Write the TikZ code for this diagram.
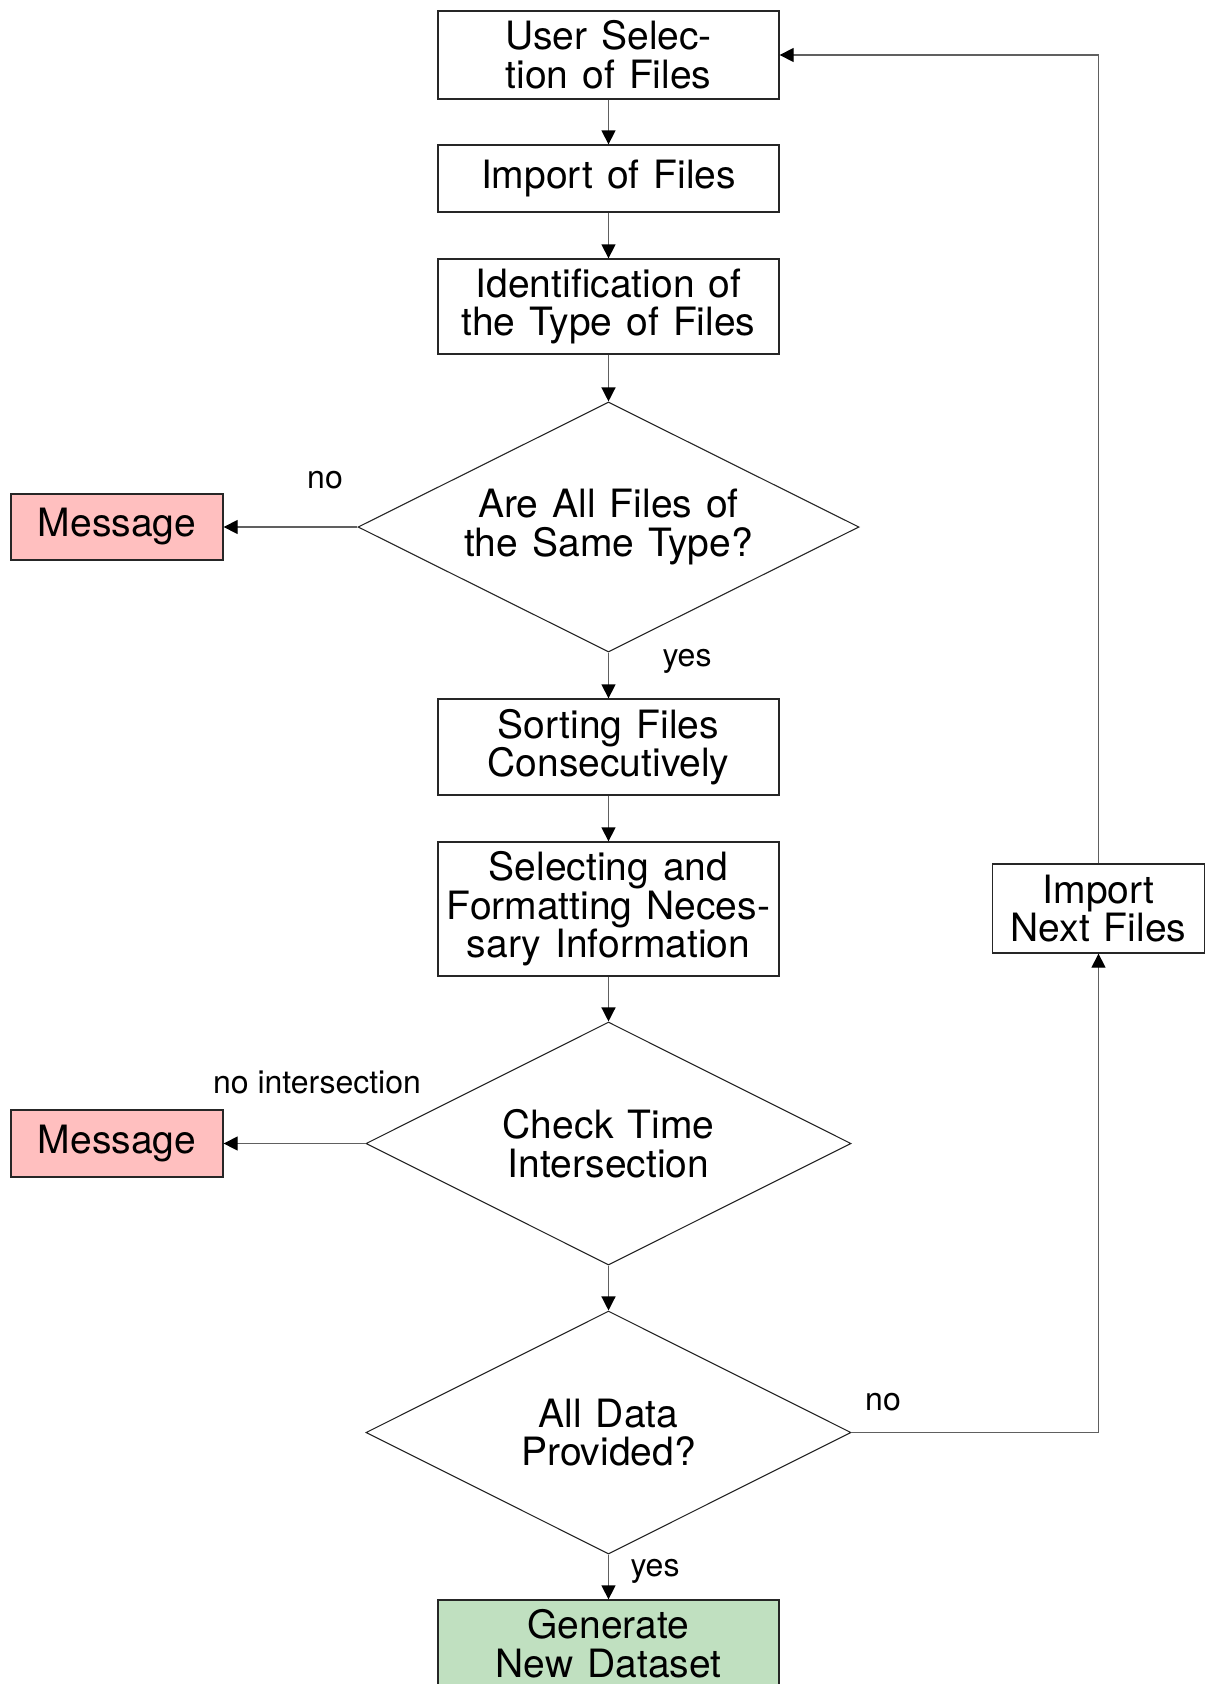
\documentclass[tikz,border=0pt]{standalone}
\usepackage{fontspec}
\setmainfont{TeX Gyre Heros}
\usetikzlibrary{shapes.geometric,arrows.meta}

\newcommand{\boxfont}{\fontsize{39}{38.6}\selectfont\spaceskip=0.36em\relax}
\newcommand{\labfont}{\fontsize{32}{36}\selectfont}

\definecolor{warnfill}{HTML}{FFBFBF}
\definecolor{okfill}{HTML}{C0E0C0}
\definecolor{linegray}{HTML}{606060}

\tikzset{
  stepbox/.style={draw=black!85, line width=1.3pt, minimum width=341pt,
    inner sep=0pt, align=center, font=\boxfont},
  sidebox/.style={stepbox, minimum width=212pt},
  decision/.style={draw=black!85, line width=1.1pt, shape=diamond, aspect=2,
    inner sep=0pt, align=center, font=\boxfont},
  conn/.style={draw=linegray, line width=1.3pt,
    -{Triangle[length=14pt,width=14pt,fill=black,color=black]}},
  edgelabel/.style={font=\labfont, inner sep=0pt}
}

\begin{document}
\begin{tikzpicture}[x=1pt,y=-1pt]
\useasboundingbox (0,0) rectangle (1206,1684);

% main column
\node[stepbox, minimum height=88pt] (sel) at (608.5,55) {User Selec-\\tion of Files};
\node[stepbox, minimum height=67pt] (imp) at (608.5,178.5) {Import of Files};
\node[stepbox, minimum height=95pt] (ident) at (608.5,306.5) {Identification of\\the Type of Files};
\node[decision, minimum width=501pt, minimum height=250pt] (same) at (608.5,527) {Are All Files of\\the Same Type?};
\node[stepbox, minimum height=96pt] (sort) at (608.5,747) {Sorting Files\\Consecutively};
\node[stepbox, minimum height=134pt] (format) at (608.5,909) {Selecting and\\Formatting Neces-\\sary Information};
\node[decision, minimum width=485pt, minimum height=243pt] (time) at (608.5,1143.5) {Check Time\\Intersection};
\node[decision, minimum width=485pt, minimum height=243pt] (all) at (608.5,1432.5) {All Data\\Provided?};
\node[stepbox, minimum height=88pt, fill=okfill] (gen) at (608.5,1644) {Generate\\New Dataset};

% side boxes
\node[sidebox, minimum height=66pt, fill=warnfill] (msgA) at (117,527) {Message};
\node[sidebox, minimum height=67pt, fill=warnfill] (msgB) at (117,1143.5) {Message};
\node[sidebox, minimum height=89pt] (next) at (1098.5,908.5) {Import\\Next Files};

% connectors
\draw[conn] (sel) -- (imp);
\draw[conn] (imp) -- (ident);
\draw[conn] (ident) -- (same);
\draw[conn] (same.west) -- (msgA.east);
\draw[conn] (same.south) -- (sort);
\draw[conn] (sort) -- (format);
\draw[conn] (format) -- (time);
\draw[conn] (time.west) -- (msgB.east);
\draw[conn] (time.south) -- (all.north);
\draw[conn] (all.south) -- (gen);
\draw[conn] (all.east) -| (next.south);
\draw[conn] (next.north) |- (sel.east);

% edge labels
\node[edgelabel] (lnoA) at (325,480) {no};
\node[edgelabel] (lyesA) at (687,661) {yes};
\node[edgelabel] (lnoB) at (317,1082) {no intersection};
\node[edgelabel] (lnoC) at (883,1402) {no};
\node[edgelabel] (lyesC) at (655,1571) {yes};
\end{tikzpicture}
\end{document}
